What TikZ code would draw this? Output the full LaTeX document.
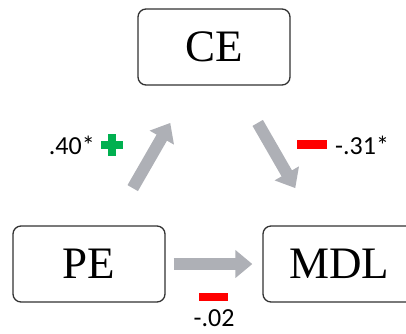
\documentclass[tikz,border=0pt]{standalone}
\usepackage{fontspec}
\setmainfont{Liberation Serif}
\newfontfamily\labelfont{Carlito}
\usetikzlibrary{arrows.meta}
\definecolor{arrowgray}{RGB}{174,176,182}
\definecolor{boxline}{RGB}{50,50,50}
\definecolor{plusgreen}{RGB}{0,176,80}
\definecolor{minusred}{RGB}{255,0,0}
\tikzset{
  varbox/.style={draw=boxline, line width=1.3pt, rounded corners=8pt, fill=white,
    minimum width=152pt, minimum height=76pt, inner sep=0pt,
    font=\fontsize{45}{50}\selectfont},
  fatarrow/.style={draw=arrowgray, line width=12pt,
    -{Triangle[length=17pt,width=27pt]}},
  coef/.style={font=\labelfont\fontsize{26}{29}\selectfont, inner sep=0pt, text=black}
}
\begin{document}
\begin{tikzpicture}[x=1pt,y=-1pt]
\useasboundingbox (0,0) rectangle (406,333);
\clip (0,0) rectangle (406,333);
\node[varbox] (CE) at (214,47) {CE};
\node[varbox] (PE) at (89,264) {PE};
\node[varbox] (MDL) at (339,264) {MDL};
\draw[fatarrow, shorten <=43pt, shorten >=43pt] (PE) -- (CE);
\draw[fatarrow, shorten <=43pt, shorten >=43pt] (CE) -- (MDL);
\draw[fatarrow, shorten <=8pt, shorten >=10pt] (PE) -- (MDL);
% labels
\node[coef, anchor=east] (l1) at (95,145) {.40*};
\fill[plusgreen] (108,134) rectangle (116,156);
\fill[plusgreen] (101,141) rectangle (123,149);
\fill[minusred] (297,140) rectangle (327,149);
\node[coef, anchor=west] (l2) at (335,145) {-.31*};
\fill[minusred] (199,293) rectangle (228,301);
\node[coef] (l3) at (214,318) {-.02};
\end{tikzpicture}
\end{document}
